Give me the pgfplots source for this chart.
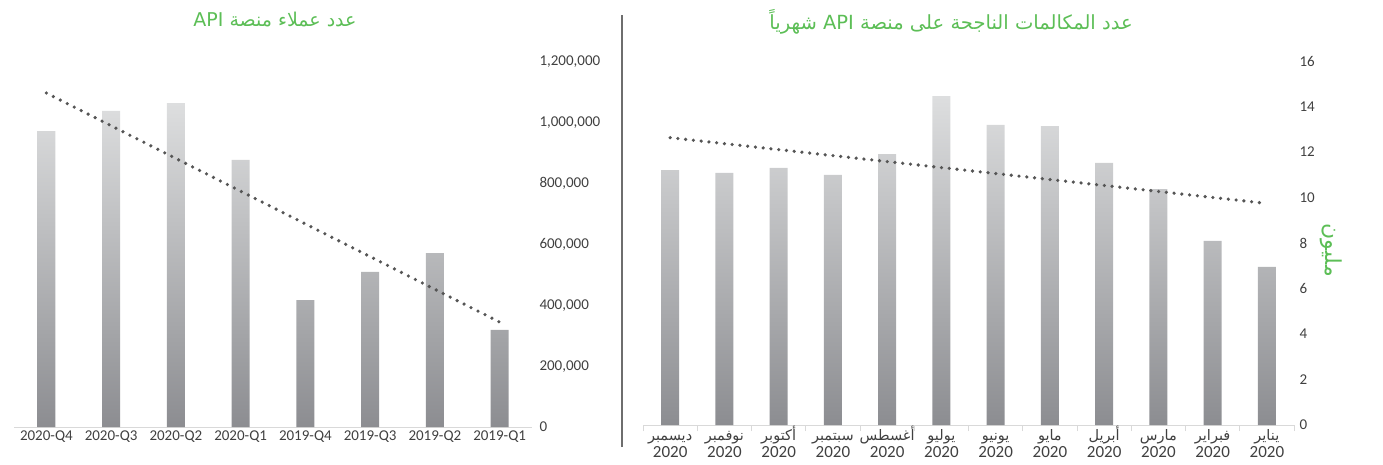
\documentclass[border=0pt]{standalone}
\usepackage{pgfplots}
\pgfplotsset{compat=1.18}
\usepackage{fontspec}
\setmainfont{Carlito}
\newfontfamily\arabicfont[Script=Arabic]{DejaVu Sans}
\TeXXeTstate=1
\definecolor{titlegreen}{RGB}{92,190,86}
\definecolor{ticktext}{RGB}{64,64,64}
\definecolor{baseline}{RGB}{217,217,217}
\definecolor{bartop}{RGB}{221,222,223}
\definecolor{barbot}{RGB}{140,141,145}
\definecolor{trend}{RGB}{85,85,85}
\definecolor{sepline}{RGB}{110,110,110}
\newcommand\ar[1]{{\arabicfont\beginR #1\endR}}
\newcommand\mon[1]{\rule{0pt}{13pt}\smash{\fontsize{14.5}{16}\selectfont\ar{#1}}\\2020}
\pgfplotsset{
 mystyle/.style={
  scale only axis,
  axis x line*=bottom, axis y line*=right,
  axis line style={-},
  y axis line style={draw=none},
  x axis line style={draw=baseline, line width=1pt},
  major tick length=0pt,
  ymin=0,
  tick label style={text=ticktext, font=\fontsize{15}{16}\selectfont},
  /pgf/number format/assume math mode=true,
  scaled y ticks=false,
  yticklabel style={/pgf/number format/fixed, /pgf/number format/1000 sep={,}, anchor=west},
  clip=false,
 },
 bars/.style={ybar, bar width=18pt, draw=none, top color=bartop, bottom color=barbot},
 trendline/.style={draw=trend, line width=3.6pt, line cap=round, dash pattern=on 0pt off 7.8pt, mark=none},
}
\begin{document}
\begin{tikzpicture}
\useasboundingbox (0,0) rectangle (1383pt,464pt);
% Left chart
\begin{axis}[mystyle,
  at={(14pt,37pt)}, anchor=south west,
  width=518pt, height=365pt,
  xmin=0.5, xmax=8.5, ymax=1200000,
  xtick={1,...,8},
  xticklabels={2020-Q4,2020-Q3,2020-Q2,2020-Q1,2019-Q4,2019-Q3,2019-Q2,2019-Q1},
  ytick={0,200000,...,1200000},
  yticklabel style={xshift=4pt},
]
\addplot[bars] coordinates {(1,973000) (2,1039000) (3,1065000) (4,878000) (5,417000) (6,510000) (7,572000) (8,319000)};
\addplot[trendline] coordinates {(1,1098000) (8,345000)};
\end{axis}
% Right chart
\begin{axis}[mystyle,
  at={(643pt,39pt)}, anchor=south west,
  width=651pt, height=364pt,
  xmin=0.5, xmax=12.5, ymax=16,
  xtick={1,...,12},
  minor xtick={0.5,1.5,...,12.5},
  minor tick length=6pt, tick align=outside,
  minor x tick style={draw=baseline, line width=1pt},
  xticklabel style={align=center, font=\fontsize{17}{17}\selectfont, inner sep=2pt},
  xticklabels={\mon{ديسمبر},\mon{نوفمبر},\mon{أكتوبر},\mon{سبتمبر},\mon{أغسطس},\mon{يوليو},\mon{يونيو},\mon{مايو},\mon{أبريل},\mon{مارس},\mon{فبراير},\mon{يناير}},
  ytick={0,2,...,16},
  yticklabel style={xshift=2pt},
]
\addplot[bars] coordinates {(1,11.2) (2,11.08) (3,11.3) (4,10.99) (5,11.91) (6,14.46) (7,13.19) (8,13.14) (9,11.52) (10,10.37) (11,8.09) (12,6.95)};
\addplot[trendline] coordinates {(1,12.63) (12,9.74)};
\node[rotate=-90, text=titlegreen, font=\fontsize{22}{24}\selectfont] at ([xshift=37pt]rel axis cs:1,0.48) {\ar{مليون}};
\end{axis}
\draw[sepline, line width=2.5pt] (622pt,17pt) -- (622pt,449pt);
\node[text=titlegreen, font=\fontsize{19}{22}\selectfont] at (275pt,444pt) {\ar{عدد عملاء منصة API}};
\node[text=titlegreen, font=\fontsize{19.5}{22}\selectfont] at (951pt,442pt) {\ar{عدد المكالمات الناجحة على منصة API شهرياً}};
\end{tikzpicture}
\end{document}
